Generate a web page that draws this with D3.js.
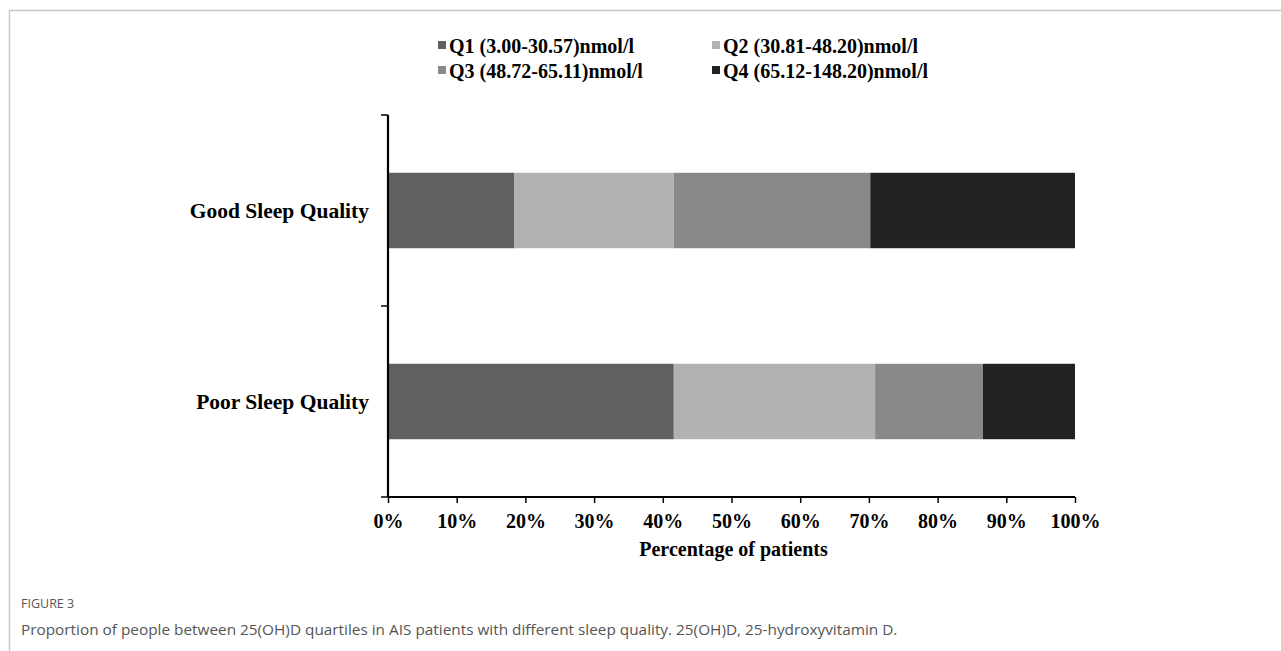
<!DOCTYPE html>
<html><head><meta charset="utf-8">
<script src="https://cdn.jsdelivr.net/npm/d3@7"></script>
<style>
html,body{margin:0;padding:0;background:#fff;}
svg{display:block;}
</style></head>
<body>
<svg id="chart" width="1281" height="651"></svg>
<script>
const categories = ["Good Sleep Quality", "Poor Sleep Quality"];
const seriesNames = ["Q1 (3.00-30.57)nmol/l", "Q2 (30.81-48.20)nmol/l", "Q3 (48.72-65.11)nmol/l", "Q4 (65.12-148.20)nmol/l"];
const seriesColors = ["#606060", "#b2b2b2", "#898989", "#222222"];
const q1 = [18.4, 41.6];
const q2 = [23.2, 29.3];
const q3 = [28.6, 15.7];
const q4 = [29.8, 13.4];
const xTicks = [0, 10, 20, 30, 40, 50, 60, 70, 80, 90, 100];
const xTitle = "Percentage of patients";
const figLabel = "FIGURE 3";
const caption = "Proportion of people between 25(OH)D quartiles in AIS patients with different sleep quality. 25(OH)D, 25-hydroxyvitamin D.";

(function () {
const svg = d3.select("#chart");
const serif = "'Liberation Serif','Times New Roman',serif";
const fs = 20;

// frame
svg.append("path").attr("d", "M9.5,651V10.5H1281").attr("fill", "none").attr("stroke", "#c8c8c8").attr("stroke-width", 1.5);

const pL = 388, pR = 1075, pT = 115, pB = 497;
const x = d3.scaleLinear().domain([0, 100]).range([pL, pR]);
const y = d3.scaleBand().domain(categories).range([pT, pB]).padding(0);

const rows = categories.map((c, i) => ({cat: c, Q1: q1[i], Q2: q2[i], Q3: q3[i], Q4: q4[i]}));
const keys = ["Q1", "Q2", "Q3", "Q4"];
const stacked = d3.stack().keys(keys)(rows);

const barFrac = 0.395;
const g = svg.append("g");
stacked.forEach((layer, li) => {
  g.selectAll(null).data(layer).enter().append("rect")
    .attr("x", d => x(d[0]))
    .attr("width", d => x(d[1]) - x(d[0]))
    .attr("y", d => y(d.data.cat) + y.bandwidth() * (1 - barFrac) / 2)
    .attr("height", y.bandwidth() * barFrac)
    .attr("fill", seriesColors[li]);
});

// x axis
const xAxis = d3.axisBottom(x).tickValues(xTicks).tickFormat(d => d + "%").tickSize(6).tickSizeOuter(0);
const xg = svg.append("g").attr("transform", `translate(0,${pB})`).call(xAxis);
xg.select(".domain").attr("stroke", "#000").attr("stroke-width", 2.2).attr("d", `M${pL},0H${pR}`);
xg.selectAll(".tick line").attr("stroke", "#000").attr("stroke-width", 1.5);
xg.selectAll(".tick text").attr("font-family", serif).attr("font-weight", "bold").attr("font-size", fs).attr("fill", "#000")
  .attr("y", 24).attr("dy", "0.35em");

// y axis: line with ticks at band boundaries
const yBounds = [pT].concat(categories.map(c => y(c) + y.bandwidth()));
svg.append("line").attr("x1", pL).attr("x2", pL).attr("y1", pT).attr("y2", pB).attr("stroke", "#000").attr("stroke-width", 2.2);
svg.selectAll(null).data(yBounds).enter().append("line")
  .attr("x1", pL - 7).attr("x2", pL).attr("y1", d => d).attr("y2", d => d)
  .attr("stroke", "#000").attr("stroke-width", 1.5);
svg.selectAll(null).data(categories).enter().append("text")
  .attr("x", pL - 19).attr("y", d => y(d) + y.bandwidth() / 2).attr("dy", "0.35em")
  .attr("text-anchor", "end").attr("font-family", serif).attr("font-weight", "bold").attr("font-size", 21.5)
  .text(d => d);

// x title
svg.append("text").attr("x", (pL + pR) / 2 + 2).attr("y", 549).attr("dy", "0.35em").attr("text-anchor", "middle")
  .attr("font-family", serif).attr("font-weight", "bold").attr("font-size", fs).text(xTitle);

// legend
const legPos = [[438, 46], [712, 46], [438, 71], [712, 71]];
seriesNames.forEach((n, i) => {
  const [lx, ly] = legPos[i];
  svg.append("rect").attr("x", lx).attr("y", ly - 5).attr("width", 8).attr("height", 8).attr("fill", seriesColors[i]);
  svg.append("text").attr("x", lx + 11).attr("y", ly).attr("dy", "0.35em")
    .attr("font-family", serif).attr("font-weight", "bold").attr("font-size", fs).text(n);
});

// caption
svg.append("text").attr("x", 21).attr("y", 608).attr("font-family", "'Open Sans',sans-serif").attr("font-size", 12.5)
  .attr("fill", "#555").text(figLabel);
svg.append("text").attr("x", 21).attr("y", 635).attr("font-family", "'Open Sans',sans-serif").attr("font-size", 15.35)
  .attr("fill", "#555").text(caption);
})();
</script>
</body></html>
